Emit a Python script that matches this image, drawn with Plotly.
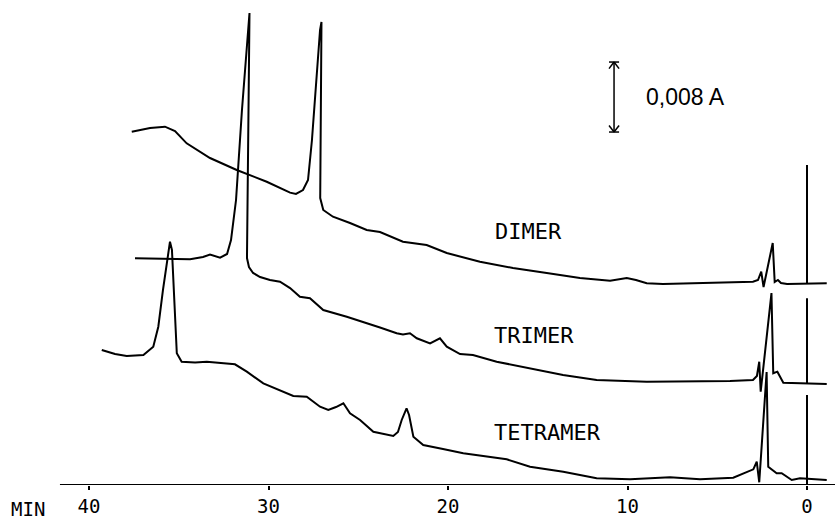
import plotly.graph_objects as go

# ---- data (time in min, absorbance in mA units; 8 units = 0.008 A) ----
dimer_t = [37.62, 36.60, 35.77, 35.21, 34.56, 33.26, 31.77, 30.10, 28.80, 28.47, 28.08, 27.80, 27.58, 27.35,
           27.13, 27.05, 27.08, 27.12, 26.95, 26.41, 25.46, 24.53, 23.79, 22.51, 21.19, 20.07, 18.22, 16.38,
           14.50, 12.65, 10.97, 10.04, 9.53, 8.93, 8.02, 6.15, 4.29, 3.01, 2.73, 2.55, 2.42, 1.91, 1.80, 1.62,
           1.45, 1.11, -1.10]
dimer_a = [40.38, 40.80, 40.95, 40.46, 39.05, 37.37, 36.00, 34.66, 33.41, 33.26, 33.71, 34.86, 39.43, 46.29,
           52.00, 52.91, 44.0, 32.8, 31.43, 30.66, 29.94, 29.14, 28.91, 27.81, 27.43, 26.51, 25.52, 24.80,
           24.23, 23.66, 23.35, 23.66, 23.43, 23.05, 22.97, 23.05, 23.12, 23.23, 23.43, 24.38, 22.63, 27.66,
           23.20, 23.43, 23.09, 22.97, 23.05]

trimer_t = [37.44, 34.37, 33.65, 33.26, 32.70, 32.31, 32.09, 31.81, 31.48, 31.20, 31.06, 31.11, 31.20, 31.09,
            30.86, 30.47, 29.92, 29.36, 28.80, 28.25, 27.69, 26.95, 25.64, 23.79, 22.86, 22.51, 22.12, 21.74,
            21.00, 20.45, 20.07, 19.33, 18.61, 17.29, 15.43, 13.59, 11.72, 8.93, 4.29, 3.01, 2.79, 2.66, 2.58,
            1.98, 1.88, 1.65, 1.32, -1.10]
trimer_a = [25.91, 25.79, 26.06, 26.34, 25.98, 26.40, 28.00, 32.57, 42.86, 50.86, 53.94, 44.00, 25.94, 24.91,
            24.23, 23.77, 23.43, 23.23, 22.51, 21.52, 21.34, 20.00, 19.23, 18.00, 17.34, 17.20, 17.34, 16.77,
            16.19, 16.77, 15.81, 14.97, 14.86, 14.09, 13.34, 12.57, 12.00, 11.81, 11.89, 12.00, 12.46, 14.09,
            10.66, 21.94, 12.77, 12.95, 11.69, 11.54]

tetramer_t = [39.29, 38.55, 37.90, 36.97, 36.42, 36.14, 35.88, 35.49, 35.38, 35.11, 34.84, 34.09, 33.44, 31.87,
              31.21, 30.29, 28.62, 27.87, 27.13, 26.67, 26.24, 25.83, 25.46, 24.90, 24.16, 23.05, 22.79, 22.58,
              22.31, 22.17, 21.93, 21.38, 20.28, 19.15, 16.73, 15.43, 13.58, 11.72, 9.86, 7.63, 5.96, 4.11,
              2.99, 2.80, 2.66, 2.25, 2.16, 1.97, 1.69, 1.41, 1.13, 0.85, 0.39, -1.10]
tetramer_a = [15.43, 14.97, 14.74, 14.86, 15.81, 18.09, 22.29, 27.81, 26.86, 15.05, 14.09, 14.00, 14.09, 13.79,
              12.95, 11.62, 10.17, 10.09, 8.95, 8.57, 8.91, 9.34, 8.19, 7.43, 6.09, 5.60, 6.06, 7.43,
              8.77, 8.00, 5.52, 4.57, 4.11, 3.62, 2.94, 2.09, 1.52, 0.77, 0.65, 0.88, 0.65, 0.83,
              1.79, 2.66, 0.31, 12.91, 2.09, 1.79, 1.34, 1.34, 0.95, 0.57, 0.77, 0.57]

# injection markers at t = 0 (bottom, top) for each trace
marker_bottom = [23.05, 11.54, 0.0]
marker_top = [36.57, 21.34, 10.29]

labels = ["DIMER", "TRIMER", "TETRAMER"]
label_t = [17.49, 17.55, 17.55]
label_a = [28.97, 17.09, 6.0]

tick_vals = [40, 30, 20, 10, 0]
tick_text = ["40", "30", "20", "10", "0"]

scale_t = 10.75
scale_lo, scale_hi = 40.34, 48.34
scale_label = "0,008 A"

x_range = [44.96, -1.56]
y_range = [0, 55.43]
axis_start = 41.62

line = dict(color="black", width=2)
fig = go.Figure()
for t, a in [(dimer_t, dimer_a), (trimer_t, trimer_a), (tetramer_t, tetramer_a)]:
    fig.add_trace(go.Scatter(x=t, y=a, mode="lines", line=line, showlegend=False, hoverinfo="skip"))

mx, my = [], []
for b, tp in zip(marker_bottom, marker_top):
    mx += [0, 0, None]
    my += [b, tp, None]
fig.add_trace(go.Scatter(x=mx, y=my, mode="lines", line=line, showlegend=False, hoverinfo="skip"))

mono = "DejaVu Sans Mono"
for lab, lt, la in zip(labels, label_t, label_a):
    fig.add_annotation(x=lt, y=la, text=lab, showarrow=False, xanchor="left", yanchor="middle",
                       font=dict(family=mono, size=22, color="black"))

# x-axis line
fig.add_shape(type="line", x0=axis_start, x1=x_range[1], y0=0, y1=0, line=dict(color="black", width=2))

# scale bar
dx, dy = 0.28, 0.75
fig.add_shape(type="line", x0=scale_t, x1=scale_t, y0=scale_lo, y1=scale_hi, line=dict(color="black", width=1.5))
for yy, s in [(scale_hi, -1), (scale_lo, 1)]:
    fig.add_shape(type="line", x0=scale_t + dx, x1=scale_t - dx, y0=yy, y1=yy, line=dict(color="black", width=1.5))
    fig.add_shape(type="line", x0=scale_t + dx, x1=scale_t, y0=yy + s * dy, y1=yy, line=dict(color="black", width=1.5))
    fig.add_shape(type="line", x0=scale_t - dx, x1=scale_t, y0=yy + s * dy, y1=yy, line=dict(color="black", width=1.5))
fig.add_annotation(x=9.1, y=(scale_lo + scale_hi) / 2, text=scale_label, showarrow=False, xanchor="left",
                   yanchor="middle", font=dict(family="Liberation Sans Narrow, Arial Narrow, Liberation Sans", size=23, color="black"))

fig.add_annotation(x=27.5 / 835, y=-24 / 485, xref="paper", yref="paper", text="MIN", showarrow=False,
                   xanchor="center", yanchor="middle", font=dict(family=mono, size=19, color="black"))

fig.update_xaxes(range=x_range, tickvals=tick_vals, ticktext=tick_text, ticks="outside", ticklen=4,
                 tickwidth=2, tickcolor="black", showgrid=False, zeroline=False, showline=False,
                 tickfont=dict(family=mono, size=19, color="black"))
fig.update_yaxes(range=y_range, visible=False, showgrid=False, zeroline=False)
fig.update_layout(width=835, height=522, margin=dict(l=0, r=0, t=0, b=37), plot_bgcolor="white",
                  paper_bgcolor="white")
fig.write_html("out.html")
